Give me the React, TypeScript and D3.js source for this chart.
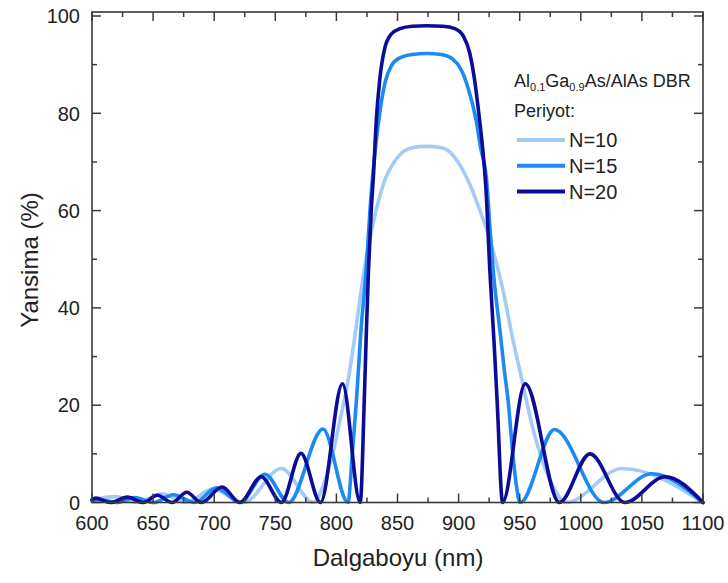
import React from 'react';
import * as d3 from 'd3';

const xTicks = [600, 650, 700, 750, 800, 850, 900, 950, 1000, 1050, 1100];
const yTicks = [0, 20, 40, 60, 80, 100];
const xMinor = [625, 675, 725, 775, 825, 875, 925, 975, 1025, 1075];
const yMinor = [10, 30, 50, 70, 90];

const seriesNames = ['N=10', 'N=15', 'N=20'];

const n10: [number, number][] = [
  [600, 0.5], [619, 1.2], [637, 0], [657, 1.8], [677, 0], [699, 2.8], [724, 0], [755, 7.0], [781, 0],
  [790, 4], [797, 10], [803, 17], [809.5, 25], [815, 34], [820.5, 44], [825, 51], [830, 57.3], [835, 62.5],
  [840, 66.5], [846, 69.5], [852, 71.5], [862, 72.9], [874, 73.2], [886, 72.9], [895, 71.5], [902, 69],
  [909, 65.5], [916, 61], [922.5, 56.5], [929, 51], [936, 44], [944, 34], [952, 25], [960, 16], [968, 9],
  [977, 3.5], [988, 0], [1034, 7.0], [1100, 0],
];

const n15: [number, number][] = [
  [600, 0.3], [606.5, 0.6], [620, 0], [635, 1.0], [650.5, 0], [666.5, 1.6], [684, 0], [702, 3.0], [721, 0],
  [741.5, 5.8], [761, 0], [789, 15.1], [809.5, 0],
  [813, 10], [816.4, 21], [820, 35], [824.4, 48], [828, 62], [832, 73], [836, 81], [840, 86.5], [845, 89.8],
  [852, 91.4], [862, 92.1], [874, 92.3], [886, 92.1], [895, 91.2], [902, 89], [908, 85], [914, 79], [918, 73],
  [923, 66], [925.5, 57], [928.2, 48], [934, 35], [937.5, 27], [940.5, 21], [944, 11], [947, 4], [950.5, 0],
  [978.5, 15.0], [1019, 0], [1058, 5.9], [1100, 0],
];

const n20: [number, number][] = [
  [600, 0.6], [603, 0.9], [615, 0], [629, 1.1], [642, 0], [653.5, 1.5], [665.5, 0], [677.5, 2.1], [689.5, 0],
  [706.5, 3.2], [721, 0], [738.5, 5.3], [755, 0], [771, 10.1], [787, 0], [805, 24.4], [819.5, 0],
  [822.8, 21], [824.5, 35], [826.3, 48], [828.5, 60], [830.5, 68], [832.5, 78], [835.5, 87], [839.5, 93.3],
  [845, 96.3], [852, 97.4], [862, 97.9], [874, 98], [887, 97.9], [897, 97.4], [904, 95.8], [909, 92.5],
  [913, 87], [917, 79], [920, 72], [922.5, 64], [925.5, 48], [929, 33], [931.5, 21], [936, 0],
  [954.5, 24.4], [982.5, 0], [1007.5, 10.0], [1036, 0], [1069, 5.3], [1100, 0],
];

const seriesData = [n10, n15, n20];
const colors = ['#a4cbf4', '#1b8af2', '#0c0c98'];

const FONT = '"Liberation Sans", Arial, sans-serif';
const TXT = '#222';
const AX = '#3a3a3a';

export default function App() {
  const left = 92, right = 703, top = 12, bottom = 502.5;
  const x = d3.scaleLinear().domain([600, 1100]).range([left, right]);
  const y = d3.scaleLinear().domain([0, 100]).range([bottom, 16]);
  const line = d3.line<[number, number]>()
    .x(d => x(d[0]))
    .y(d => y(d[1]))
    .curve(d3.curveMonotoneX);

  const major = 9, minor = 5;

  return (
    <svg width={728} height={583} style={{ position: 'absolute', left: 0, top: 0, background: '#fff' }}
      xmlns="http://www.w3.org/2000/svg">
      <rect x={0} y={0} width={728} height={583} fill="#fff" />
      {seriesData.map((s, i) => (
        <path key={i} d={line(s) || ''} fill="none" stroke={colors[i]} strokeWidth={3.6}
          strokeLinejoin="round" strokeLinecap="round" />
      ))}
      {/* frame */}
      <rect x={left} y={top} width={right - left} height={bottom - top} fill="none" stroke={AX} strokeWidth={1.6} />
      {/* x ticks */}
      {xTicks.map(t => (
        <g key={'xt' + t}>
          <line x1={x(t)} x2={x(t)} y1={bottom} y2={bottom - major} stroke={AX} strokeWidth={1.5} />
          <line x1={x(t)} x2={x(t)} y1={top} y2={top + major} stroke={AX} strokeWidth={1.5} />
          <text x={x(t)} y={530} textAnchor="middle" fontFamily={FONT} fontSize={20} fill={TXT}>{t}</text>
        </g>
      ))}
      {xMinor.map(t => (
        <g key={'xm' + t}>
          <line x1={x(t)} x2={x(t)} y1={bottom} y2={bottom - minor} stroke={AX} strokeWidth={1.5} />
          <line x1={x(t)} x2={x(t)} y1={top} y2={top + minor} stroke={AX} strokeWidth={1.5} />
        </g>
      ))}
      {/* y ticks */}
      {yTicks.map(t => (
        <g key={'yt' + t}>
          <line x1={left} x2={left + major} y1={y(t)} y2={y(t)} stroke={AX} strokeWidth={1.5} />
          <line x1={right} x2={right - major} y1={y(t)} y2={y(t)} stroke={AX} strokeWidth={1.5} />
          <text x={80} y={y(t)} dy="0.36em" textAnchor="end" fontFamily={FONT} fontSize={20} fill={TXT}>{t}</text>
        </g>
      ))}
      {yMinor.map(t => (
        <g key={'ym' + t}>
          <line x1={left} x2={left + minor} y1={y(t)} y2={y(t)} stroke={AX} strokeWidth={1.5} />
          <line x1={right} x2={right - minor} y1={y(t)} y2={y(t)} stroke={AX} strokeWidth={1.5} />
        </g>
      ))}
      {/* axis titles */}
      <text x={398} y={566} textAnchor="middle" fontFamily={FONT} fontSize={24} fill={TXT}>Dalgaboyu (nm)</text>
      <text transform="translate(38,260) rotate(-90)" textAnchor="middle" fontFamily={FONT} fontSize={24} fill={TXT}>Yansima (%)</text>
      {/* legend */}
      <text x={514} y={87} fontFamily={FONT} fontSize={18} fill={TXT}>
        Al<tspan fontSize={11} dy={4}>0.1</tspan><tspan dy={-4}>Ga</tspan><tspan fontSize={11} dy={4}>0.9</tspan><tspan dy={-4}>As/AlAs DBR</tspan>
      </text>
      <text x={514} y={117} fontFamily={FONT} fontSize={18} fill={TXT}>Periyot:</text>
      {seriesNames.map((n, i) => (
        <g key={n}>
          <line x1={517} x2={565} y1={140 + i * 25.8} y2={140 + i * 25.8} stroke={colors[i]} strokeWidth={4} />
          <text x={569} y={140 + i * 25.8} dy="0.36em" fontFamily={FONT} fontSize={20} fill={TXT}>{n}</text>
        </g>
      ))}
    </svg>
  );
}
